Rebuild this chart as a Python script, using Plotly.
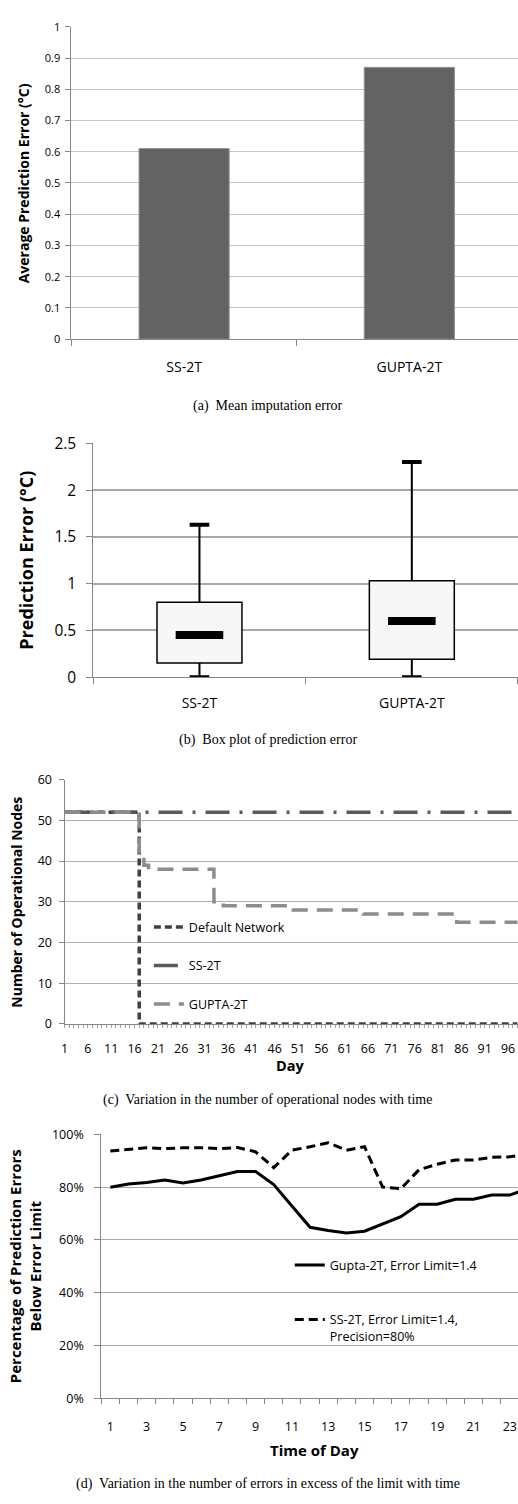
import plotly.graph_objects as go

# ---------------- data ----------------
bar_categories = ["SS-2T", "GUPTA-2T"]
bar_mean_error = [0.61, 0.87]

box_categories = ["SS-2T", "GUPTA-2T"]
box_min = [0.0, 0.0]
box_q1 = [0.15, 0.19]
box_median = [0.45, 0.60]
box_q3 = [0.80, 1.03]
box_max = [1.63, 2.30]

days = list(range(1, 99))
default_network = [
    52, 52, 52, 52, 52, 52, 52, 52, 52, 52, 52, 52, 52, 52, 52, 52,
    0, 0, 0, 0, 0, 0, 0, 0, 0, 0, 0, 0, 0, 0, 0, 0, 0, 0, 0, 0, 0, 0, 0, 0,
    0, 0, 0, 0, 0, 0, 0, 0, 0, 0, 0, 0, 0, 0, 0, 0, 0, 0, 0, 0, 0, 0, 0, 0,
    0, 0, 0, 0, 0, 0, 0, 0, 0, 0, 0, 0, 0, 0, 0, 0, 0, 0, 0, 0, 0, 0, 0, 0,
    0, 0, 0, 0, 0, 0, 0, 0, 0, 0,
]
ss2t_nodes = [
    52, 52, 52, 52, 52, 52, 52, 52, 52, 52, 52, 52, 52, 52, 52, 52, 52, 52, 52, 52,
    52, 52, 52, 52, 52, 52, 52, 52, 52, 52, 52, 52, 52, 52, 52, 52, 52, 52, 52, 52,
    52, 52, 52, 52, 52, 52, 52, 52, 52, 52, 52, 52, 52, 52, 52, 52, 52, 52, 52, 52,
    52, 52, 52, 52, 52, 52, 52, 52, 52, 52, 52, 52, 52, 52, 52, 52, 52, 52, 52, 52,
    52, 52, 52, 52, 52, 52, 52, 52, 52, 52, 52, 52, 52, 52, 52, 52, 52, 52,
]
gupta2t_nodes = [
    52, 52, 52, 52, 52, 52, 52, 52, 52, 52, 52, 52, 52, 52, 52, 52,
    42, 39,
    38, 38, 38, 38, 38, 38, 38, 38, 38, 38, 38, 38, 38, 38,
    30, 30,
    29, 29, 29, 29, 29, 29, 29, 29, 29, 29, 29, 29, 29, 29, 29,
    28, 28, 28, 28, 28, 28, 28, 28, 28, 28, 28, 28, 28, 28, 28,
    27, 27, 27, 27, 27, 27, 27, 27, 27, 27, 27, 27, 27, 27, 27, 27, 27, 27, 27,
    26,
    25, 25, 25, 25, 25, 25, 25, 25, 25, 25, 25, 25, 25, 25,
]
day_tick_labels = [1, 6, 11, 16, 21, 26, 31, 36, 41, 46, 51, 56, 61, 66, 71, 76, 81, 86, 91, 96]

hours = list(range(1, 25))
gupta_pct = [80.0, 81.2, 81.8, 82.7, 81.6, 82.7, 84.3, 85.9, 85.9, 81.0, 72.9, 64.8,
             63.6, 62.6, 63.3, 66.0, 68.8, 73.5, 73.5, 75.4, 75.4, 77.0, 77.0, 79.5]
ss_pct = [93.7, 94.4, 94.9, 94.6, 94.9, 94.9, 94.6, 95.0, 93.4, 87.4, 94.0, 95.3,
          96.8, 94.0, 95.3, 80.0, 79.4, 86.6, 88.7, 90.3, 90.3, 91.3, 91.5, 92.5]
hour_tick_labels = [1, 3, 5, 7, 9, 11, 13, 15, 17, 19, 21, 23]

# ---------------- layout helpers ----------------
W, H = 518, 1504
FONT = "Open Sans"
SERIF = "Liberation Serif"


def fx(px):
    return px / W


def fy(py):
    return 1 - py / H


fig = go.Figure()

# (a) mean error bars
fig.add_trace(go.Bar(
    x=bar_categories, y=bar_mean_error, width=0.4,
    marker=dict(color="#636363", line=dict(color="#8f8f8f", width=1)),
    xaxis="x", yaxis="y", showlegend=False, hoverinfo="x+y"))

# (b) box plot built from quartile arrays
fig.add_trace(go.Bar(
    x=box_categories, y=[q3 - q1 for q1, q3 in zip(box_q1, box_q3)], base=box_q1,
    width=0.4, marker=dict(color="#f7f7f7", line=dict(color="#000000", width=1.5)),
    xaxis="x2", yaxis="y2", showlegend=False))
wx, wy = [], []
for c, lo, q1, q3, hi in zip(box_categories, box_min, box_q1, box_q3, box_max):
    wx += [c, c, None, c, c, None]
    wy += [q3, hi, None, lo, q1, None]
fig.add_trace(go.Scatter(x=wx, y=wy, mode="lines", line=dict(color="#000000", width=2),
                         xaxis="x2", yaxis="y2", showlegend=False, hoverinfo="skip"))
fig.add_trace(go.Scatter(
    x=box_categories + box_categories, y=box_max + box_min, mode="markers",
    marker=dict(symbol="line-ew", size=14, line=dict(color="#000000", width=4)),
    xaxis="x2", yaxis="y2", showlegend=False))
fig.add_trace(go.Scatter(
    x=box_categories, y=box_median, mode="markers",
    marker=dict(symbol="line-ew", size=34, line=dict(color="#000000", width=8)),
    xaxis="x2", yaxis="y2", showlegend=False))

# (c) operational nodes
fig.add_trace(go.Scatter(
    x=days, y=default_network, mode="lines", name="Default Network", line_shape="hv",
    line=dict(color="#404040", width=3.5, dash="7px,4px"),
    xaxis="x3", yaxis="y3", legend="legend"))
fig.add_trace(go.Scatter(
    x=days, y=ss2t_nodes, mode="lines", name="SS-2T",
    line=dict(color="#5a5a5a", width=3.5, dash="24px,10px,3px,10px"),
    xaxis="x3", yaxis="y3", legend="legend2"))
fig.add_trace(go.Scatter(
    x=days, y=gupta2t_nodes, mode="lines", name="GUPTA-2T", line_shape="hv",
    line=dict(color="#8c8c8c", width=3.5, dash="16px,9px"),
    xaxis="x3", yaxis="y3", legend="legend3"))

# (d) percentage below error limit
fig.add_trace(go.Scatter(
    x=hours, y=gupta_pct, mode="lines", name="Gupta-2T, Error Limit=1.4",
    line=dict(color="#000000", width=3),
    xaxis="x4", yaxis="y4", legend="legend4"))
fig.add_trace(go.Scatter(
    x=hours, y=ss_pct, mode="lines", name="SS-2T, Error Limit=1.4,<br>Precision=80%",
    line=dict(color="#000000", width=3, dash="9px,5px"),
    xaxis="x4", yaxis="y4", legend="legend5"))

GRID = "#b0b0b0"
AX = "#868686"
tickfont = lambda s: dict(family=FONT, size=s, color="#000000")

layout = dict(
    width=W, height=H, margin=dict(l=0, r=0, t=0, b=0),
    paper_bgcolor="white", plot_bgcolor="white",
    font=dict(family=FONT, color="#000000"),
    # (a)
    xaxis=dict(domain=[fx(68), 1], range=[-0.5, -0.5 + 450 / 227], type="category",
               tickson="boundaries", ticks="outside", ticklen=6, tickcolor=AX,
               showline=True, linecolor=AX, showgrid=False, tickfont=tickfont(14),
               ticklabelstandoff=15, fixedrange=True),
    yaxis=dict(domain=[fy(332), fy(15)], range=[0, 1], dtick=0.1, ticks="outside",
               ticklen=5, tickcolor=AX, showline=True, linecolor=AX, gridcolor="#c4c4c4",
               tickfont=tickfont(11), ticklabelstandoff=3, zeroline=False),
    # (b)
    xaxis2=dict(domain=[fx(90), 1], range=[-0.5, 1.5], type="category",
                tickson="boundaries", ticks="outside", ticklen=6, tickcolor=AX,
                showline=True, linecolor=AX, showgrid=False, tickfont=tickfont(14),
                ticklabelstandoff=13, anchor="y2"),
    yaxis2=dict(domain=[fy(675), fy(437.7)], range=[0, 2.5], dtick=0.5, ticks="outside",
                ticklen=6, tickcolor=AX, showline=True, linecolor=AX, gridcolor="#a8a8a8",
                gridwidth=1.5, tickfont=tickfont(15.5), ticklabelstandoff=7, zeroline=False,
                anchor="x2"),
    # (c)
    xaxis3=dict(domain=[fx(61), 1], range=[1, 1 + 457 / 4.705], tickvals=day_tick_labels,
                ticks="outside", ticklen=3, tickcolor="#a0a0a0",
                minor=dict(dtick=1, tick0=1, ticks="outside", ticklen=3, tickcolor="#a0a0a0",
                           showgrid=False),
                showline=True, linecolor=AX, showgrid=False, tickfont=tickfont(12.5),
                ticklabelstandoff=10, zeroline=False, anchor="y3"),
    yaxis3=dict(domain=[fy(1027), fy(779)], range=[0, 60], dtick=10, ticks="outside",
                ticklen=5, tickcolor=AX, showline=True, linecolor=AX, gridcolor=GRID,
                tickfont=tickfont(12.5), ticklabelstandoff=4, zeroline=False, anchor="x3"),
    # (d)
    xaxis4=dict(domain=[fx(98), 1], range=[0.5, 0.5 + 420 / 18.3], tickvals=hour_tick_labels,
                ticks="", minor=dict(tick0=0.5, dtick=1, ticks="outside", ticklen=5,
                                     tickcolor=AX, showgrid=False),
                showline=True, linecolor=AX, showgrid=False, tickfont=tickfont(12.5),
                ticklabelstandoff=17, zeroline=False, anchor="y4"),
    yaxis4=dict(domain=[fy(1407), fy(1139)], range=[0, 100], dtick=20, ticksuffix="%",
                ticks="outside", ticklen=6, tickcolor=AX, showline=True, linecolor=AX,
                gridcolor="#a8a8a8", tickfont=tickfont(12.5), ticklabelstandoff=8,
                zeroline=False, anchor="x4"),
)

leg_common = dict(bgcolor="rgba(0,0,0,0)", borderwidth=0, font=dict(family=FONT, size=12.5),
                  xanchor="left", yanchor="middle")
layout["legend"] = dict(x=fx(146), y=fy(929), **leg_common)
layout["legend2"] = dict(x=fx(146), y=fy(968), **leg_common)
layout["legend3"] = dict(x=fx(146), y=fy(1007), **leg_common)
layout["legend4"] = dict(x=fx(288), y=fy(1272), **leg_common)
leg5 = dict(leg_common)
leg5["yanchor"] = "top"
layout["legend5"] = dict(x=fx(288), y=fy(1312), valign="top", **leg5)

anns = []


def add_text(text, px, py, size, bold=False, family=FONT, angle=0):
    anns.append(dict(text=text, x=fx(px), y=fy(py), xref="paper", yref="paper",
                     showarrow=False, textangle=angle, xanchor="center", yanchor="middle",
                     font=dict(family=family, size=size, color="#000000",
                               weight="bold" if bold else "normal")))


add_text("Average Prediction Error (°C)", 20, 174, 14, bold=True, angle=-90)
add_text("(a)  Mean imputation error", 266, 400, 14, family=SERIF)
add_text("Prediction Error (°C)", 22, 556, 18, bold=True, angle=-90)
add_text("(b)  Box plot of prediction error", 266, 739, 14, family=SERIF)
add_text("Number of Operational Nodes", 13, 903, 14, bold=True, angle=-90)
add_text("Day", 288, 1069, 14.5, bold=True)
add_text("(c)  Variation in the number of operational nodes with time", 266, 1104, 14, family=SERIF)
add_text("Percentage of Prediction Errors<br>Below Error Limit", 22, 1273, 15, bold=True, angle=-90)
add_text("Time of Day", 313, 1459, 15, bold=True)
add_text("(d)  Variation in the number of errors in excess of the limit with time", 266, 1494, 14, family=SERIF)
layout["annotations"] = anns

fig.update_layout(**layout)
fig.write_html("out.html")
